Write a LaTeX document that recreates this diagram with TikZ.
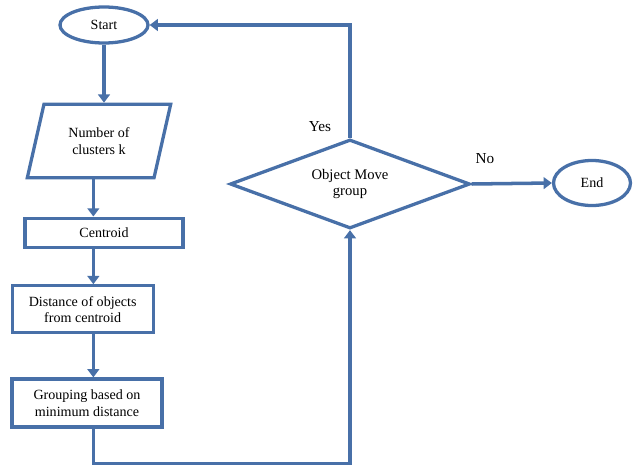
\documentclass[tikz,border=0pt]{standalone}
\usepackage{fontspec}
\setmainfont{Liberation Serif}
\usepackage{xcolor}
\usetikzlibrary{shapes.geometric,arrows.meta}
\definecolor{flowblue}{RGB}{72,112,168}

\begin{document}
\begin{tikzpicture}[
    proc/.style={draw=flowblue, line width=2.8pt, fill=white, align=center, inner sep=1pt, font=\fontsize{12}{14}\selectfont},
    term/.style={draw=flowblue, line width=2.8pt, ellipse, inner sep=0pt, font=\fontsize{12}{14}\selectfont},
    arr/.style={-{Triangle[width=10pt,length=7pt]}, draw=flowblue, line width=3pt},
    lbl/.style={font=\fontsize{13}{15}\selectfont}
]
\useasboundingbox (0,0) rectangle (19.02,14.13);

% Start
\node[term, minimum width=2.64cm, minimum height=1.08cm] (start) at (3.12, 13.38) {Start};

% Number of clusters
\node[proc, trapezium, trapezium left angle=60, trapezium right angle=120, trapezium stretches body=true, minimum width=4.3cm, minimum height=2.2cm] (num) at (2.97, 9.9) {Number of\\clusters k};

% Centroid
\node[proc, minimum width=4.74cm, minimum height=0.87cm] (cent) at (3.12, 7.15) {Centroid};

% Distance
\node[proc, minimum width=4.23cm, minimum height=1.41cm] (dist) at (2.48, 4.85) {Distance of objects\\from centroid};

% Grouping
\node[proc, minimum width=4.5cm, minimum height=1.44cm] (group) at (2.61, 2.04) {Grouping based on\\minimum distance};

% Decision
\node[proc, diamond, aspect=2.7, inner sep=0pt, minimum width=7.2cm, minimum height=2.67cm, font=\fontsize{12.5}{14.5}\selectfont] (move) at (10.5, 8.61) {Object Move\\group};

% End
\node[term, minimum width=2.31cm, minimum height=1.35cm] (end) at (17.76, 8.64) {End};

% spine for the left column
\coordinate (spine) at (2.8, 0);

% Arrows down the left column
\draw[arr] (start.south) -- (num.north -| start.south);
\draw[arr] (num.south -| spine) -- (cent.north -| spine);
\draw[arr] (cent.south -| spine) -- (dist.north -| spine);
\draw[arr] (dist.south -| spine) -- (group.north -| spine);

% Loop back into the decision
\draw[arr] (group.south -| spine) -- ++(0, -1.05) -| (move.south);

% Yes branch back to start
\draw[arr] (move.north) |- (start.east);

% No branch to end
\draw[arr] (move.east) -- (end.west);

% Labels
\node[lbl] (yes) at (9.6, 10.32) {Yes};
\node[lbl] (no) at (14.55, 9.36) {No};
\end{tikzpicture}
\end{document}
